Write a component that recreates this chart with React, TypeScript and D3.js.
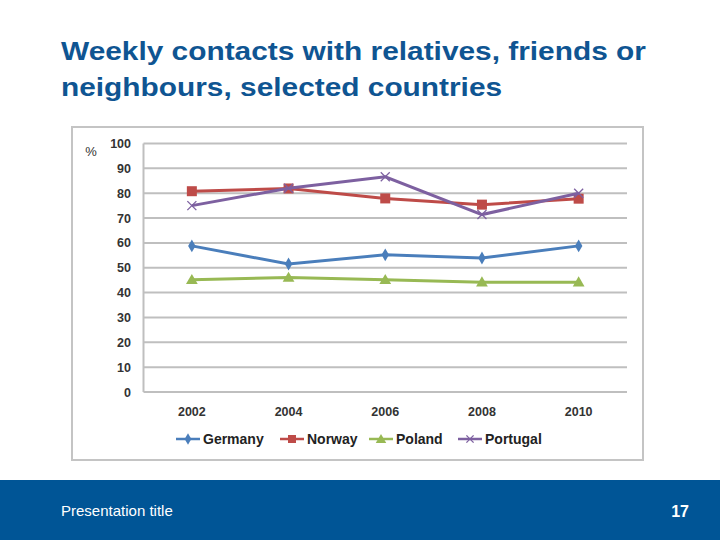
import React from "react";
import * as d3 from "d3";

const years = ["2002", "2004", "2006", "2008", "2010"];
const germany = [58.8, 51.5, 55.2, 53.9, 58.8];
const norway = [80.8, 81.9, 77.9, 75.4, 77.8];
const poland = [45.2, 46.1, 45.2, 44.2, 44.2];
const portugal = [75.0, 82.0, 86.6, 71.4, 80.0];
const yTicks = [0, 10, 20, 30, 40, 50, 60, 70, 80, 90, 100];
const seriesNames = ["Germany", "Norway", "Poland", "Portugal"];
const seriesColors = ["#4a7ebb", "#be4b48", "#98b954", "#7d60a0"];
const seriesMarkers = ["diamond", "square", "triangle", "x"];

const titleLines = ["Weekly contacts with relatives, friends or", "neighbours, selected countries"];

function Marker({ kind, x, y, color, s = 1 }: { kind: string; x: number; y: number; color: string; s?: number }) {
  if (kind === "diamond") {
    const sym = d3.symbol().type(d3.symbolDiamond).size(48 * s)();
    return <path d={sym || ""} transform={`translate(${x},${y})`} fill={color} />;
  }
  if (kind === "square") {
    const w = 10 * s;
    return <rect x={x - w / 2} y={y - w / 2} width={w} height={w} fill={color} />;
  }
  if (kind === "triangle") {
    const sym = d3.symbol().type(d3.symbolTriangle).size(60 * s)();
    return <path d={sym || ""} transform={`translate(${x},${y + 1})`} fill={color} />;
  }
  const r = 4.5 * s;
  return (
    <g stroke={color} strokeWidth={1.3}>
      <line x1={x - r} y1={y - r} x2={x + r} y2={y + r} />
      <line x1={x - r} y1={y + r} x2={x + r} y2={y - r} />
    </g>
  );
}

export default function App() {
  const data = [germany, norway, poland, portugal];
  const plotL = 143.5, plotR = 627, plotT = 143.5, plotB = 392;
  const x = d3.scalePoint<string>().domain(years).range([plotL, plotR]).padding(0.5);
  const y = d3.scaleLinear().domain([0, 100]).range([plotB, plotT]);
  const line = d3
    .line<number>()
    .x((_, i) => x(years[i]) as number)
    .y((d) => y(d));

  const legendX = [176, 280, 369, 458];
  const legendY = 439;

  return (
    <svg width={720} height={540} style={{ position: "absolute", left: 0, top: 0, background: "#fff" }}
      fontFamily="'Liberation Sans', Arial, sans-serif">
      {titleLines.map((t, i) => (
        <text key={i} transform={`translate(61,${60 + i * 36}) scale(1.148,1)`} x={0} y={0}
          fontSize={26} fontWeight="bold" fill="#0f5592">{t}</text>
      ))}

      <rect x={72} y={127} width={571} height={333} fill="#fff" stroke="#c4c4c4" strokeWidth={2} />

      {yTicks.map((t) => (
        <g key={t}>
          {t > 0 && (
            <line x1={plotL} x2={plotR} y1={y(t)} y2={y(t)} stroke="#bfbfbf" strokeWidth={2} />
          )}
          <text x={131} y={y(t) + 4.5} fontSize={12.5} fontWeight="bold" fill="#333" textAnchor="end">{t}</text>
        </g>
      ))}
      <line x1={plotL} x2={plotR} y1={plotB} y2={plotB} stroke="#bfbfbf" strokeWidth={2} />
      <line x1={plotL} x2={plotL} y1={plotT} y2={plotB} stroke="#bfbfbf" strokeWidth={2} />
      <text x={91} y={156} fontSize={13} fill="#333" textAnchor="middle">%</text>

      {years.map((yr) => (
        <text key={yr} x={x(yr)} y={415.5} fontSize={12.5} fontWeight="bold" fill="#333" textAnchor="middle">{yr}</text>
      ))}

      {data.map((vals, si) => (
        <g key={si}>
          <path d={line(vals) || ""} fill="none" stroke={seriesColors[si]} strokeWidth={3} />
          {vals.map((v, i) => (
            <Marker key={i} kind={seriesMarkers[si]} x={x(years[i]) as number} y={y(v)} color={seriesColors[si]} />
          ))}
        </g>
      ))}

      {seriesNames.map((n, i) => (
        <g key={n}>
          <line x1={legendX[i]} x2={legendX[i] + 24} y1={legendY} y2={legendY} stroke={seriesColors[i]} strokeWidth={2.5} />
          <Marker kind={seriesMarkers[i]} x={legendX[i] + 12} y={legendY} color={seriesColors[i]} s={0.8} />
          <text x={legendX[i] + 27} y={legendY + 5} fontSize={14} fontWeight="bold" fill="#222">{n}</text>
        </g>
      ))}

      <rect x={0} y={480} width={720} height={60} fill="#005596" />
      <text x={61} y={516} fontSize={15} fill="#fff">Presentation title</text>
      <text x={689} y={517} fontSize={16} fontWeight="bold" fill="#fff" textAnchor="end">17</text>
    </svg>
  );
}
